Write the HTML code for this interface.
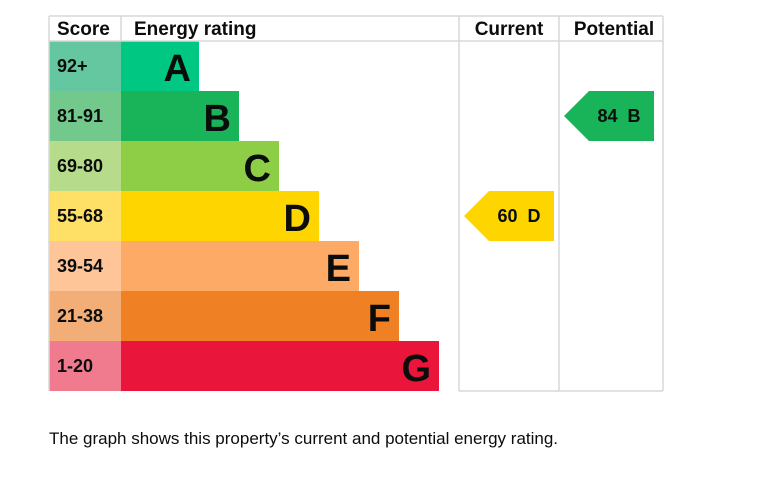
<!DOCTYPE html>
<html><head><meta charset="utf-8"><style>
body{margin:0;background:#fff;width:769px;height:481px;overflow:hidden;font-family:"Liberation Sans",sans-serif}
svg{position:absolute;left:0;top:0}
#cap{position:absolute;left:49px;top:429px;font-size:17px;color:#0b0c0c;margin:0}
</style></head><body>
<svg id="chart" width="769" height="410" xmlns="http://www.w3.org/2000/svg"></svg>
<p id="cap">The graph shows this property’s current and potential energy rating.</p>
<script>
const bands=["A","B","C","D","E","F","G"];
const scoreLabels=["92+","81-91","69-80","55-68","39-54","21-38","1-20"];
const bandMin=[92,81,69,55,39,21,1];
const currentScore=60;
const potentialScore=84;
const barColors=["#00c781","#19b459","#8dce46","#ffd500","#fcaa65","#ef8023","#e9153b"];
const scoreColors=["#64c7a0","#72c98b","#b6dc8b","#ffe066","#fdc598","#f3ae78","#f07a8e"];
const NS="http://www.w3.org/2000/svg";
const svg=document.getElementById('chart');
const top0=41,rowH=50,left=49,scoreW=72,barX=121,barBase=78,barStep=40;
function rowY(i){return top0+i*rowH;}
function bandOf(s){for(let i=0;i<bandMin.length;i++){if(s>=bandMin[i])return i;}return bandMin.length-1;}
function mk(tag,attrs,name,text){const e=document.createElementNS(NS,tag);for(const k in attrs)e.setAttribute(k,attrs[k]);


if(text!==undefined)e.textContent=text;svg.appendChild(e);return e;}
const gridC="#d8d8d8";
const bottom=rowY(bands.length);
// header
mk('text',{x:57,y:35,'font-size':19,'font-weight':'bold',fill:'#0b0c0c'},'score-header','Score');
mk('text',{x:134,y:35,'font-size':19,'font-weight':'bold',fill:'#0b0c0c'},'energy-rating-header','Energy rating');
mk('text',{x:509,y:35,'font-size':19,'font-weight':'bold',fill:'#0b0c0c','text-anchor':'middle'},'current-header','Current');
mk('text',{x:614,y:35,'font-size':19,'font-weight':'bold',fill:'#0b0c0c','text-anchor':'middle'},'potential-header','Potential');
bands.forEach((b,i)=>{
  const y=rowY(i);
  mk('rect',{x:left,y:y,width:scoreW,height:rowH,fill:scoreColors[i]},'score-cell-'+b.toLowerCase());
  mk('text',{x:57,y:y+31,'font-size':18,'font-weight':'bold',fill:'#0b0c0c'},'score-label-'+b.toLowerCase(),scoreLabels[i]);
  const w=barBase+i*barStep;
  mk('rect',{x:barX,y:y,width:w,height:rowH,fill:barColors[i]},'bar-'+b.toLowerCase());
  mk('text',{x:barX+w-8,y:y+40,'font-size':38,'font-weight':'bold',fill:'#0b0c0c','text-anchor':'end'},'bar-letter-'+b.toLowerCase(),b);
});
// grid lines
[[49,16,663,16],[49,41,663,41],[49,16,49,bottom],[121,16,121,41],[459,16,459,bottom],[559,16,559,bottom],[663,16,663,bottom],[459,bottom,663,bottom]].forEach((l,k)=>{
  mk('line',{x1:l[0],y1:l[1],x2:l[2],y2:l[3],stroke:gridC,'stroke-width':1.5},'grid-line');
});
function arrow(score,colX,name){
  const i=bandOf(score),y=rowY(i),x=colX+5,w=90;
  mk('polygon',{points:`${x},${y+25} ${x+25},${y} ${x+w},${y} ${x+w},${y+rowH} ${x+25},${y+rowH}`,fill:barColors[i]},name+'-arrow');
  mk('text',{x:x+55,y:y+31,'font-size':18,'font-weight':'bold',fill:'#0b0c0c','text-anchor':'middle'},name+'-label',score+'\u00a0 '+bands[i]);
}
arrow(currentScore,459,'current-rating');
arrow(potentialScore,559,'potential-rating');
</script>
</body></html>
